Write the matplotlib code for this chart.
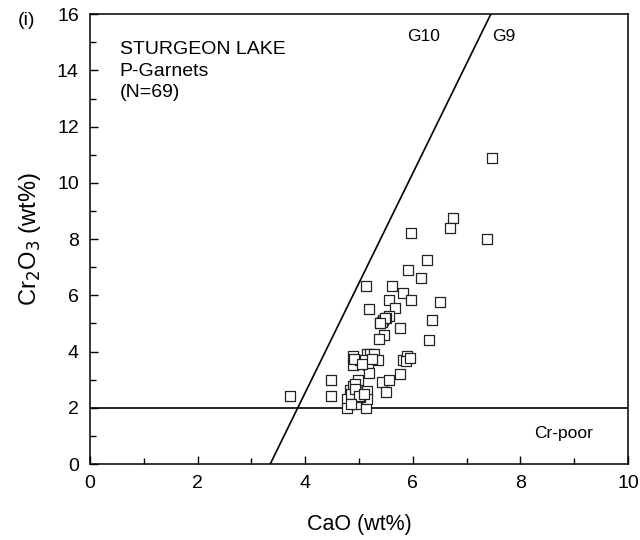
import numpy as np
import matplotlib.pyplot as plt
from matplotlib.ticker import MultipleLocator

plt.rcParams['font.family'] = ['Liberation Sans', 'DejaVu Sans']

# garnet analyses
cao = [7.48, 6.74, 6.69, 5.97, 7.38, 6.26, 5.92,
       6.16, 5.13, 5.62, 5.81, 5.96, 5.56, 6.51, 5.67, 5.18, 5.56, 5.50,
       5.45, 5.39, 6.36, 5.76, 5.47, 5.38, 6.31,
       3.72, 4.48, 4.48, 4.88, 4.88, 5.01, 5.14, 5.20, 5.28, 5.11, 5.17,
       5.36, 5.19, 4.99, 5.42, 5.56, 5.76, 5.51, 5.82, 5.89, 5.87,
       4.83, 4.88, 4.93, 4.99, 5.14, 4.78, 4.78, 4.94, 5.13, 5.14, 5.02, 4.86,
       5.42, 5.48, 4.90, 5.05, 5.25, 4.92, 5.00, 4.85, 5.10, 5.95, 5.40]
cr2o3 = [10.9, 8.75, 8.4, 8.2, 8.0, 7.25, 6.9,
         6.6, 6.33, 6.33, 6.1, 5.85, 5.85, 5.75, 5.55, 5.5, 5.28, 5.18,
         5.12, 5.0, 5.12, 4.85, 4.58, 4.45, 4.4,
         2.42, 3.0, 2.42, 3.85, 3.52, 3.7, 3.92, 3.92, 3.92, 3.7, 3.52,
         3.7, 3.22, 3.0, 2.9, 3.0, 3.2, 2.55, 3.7, 3.85, 3.65,
         2.65, 2.78, 2.85, 2.55, 2.6, 2.3, 1.98, 2.12, 1.98, 2.3, 2.4, 2.48,
         5.05, 5.2, 3.75, 3.55, 3.75, 2.68, 2.42, 2.15, 2.5, 3.78, 5.02]

# G9/G10 divider and Cr-poor limit
g10_cao = [3.35, 7.45]
g10_cr = [0, 16]
crpoor = 2

fig = plt.figure(figsize=(6.4, 5.4), dpi=100)
ax = fig.add_axes([0.1406, 0.1407, 0.8406, 0.833])

ax.plot(g10_cao, g10_cr, color='black', lw=1.2)
ax.axhline(crpoor, color='black', lw=1.2)
ax.scatter(cao, cr2o3, marker='s', s=62, facecolors='white',
           edgecolors='#222222', linewidths=0.9, zorder=3)

ax.set_xlim(0, 10)
ax.set_ylim(0, 16)
ax.xaxis.set_major_locator(MultipleLocator(2))
ax.xaxis.set_minor_locator(MultipleLocator(1))
ax.yaxis.set_major_locator(MultipleLocator(2))
ax.yaxis.set_minor_locator(MultipleLocator(1))
ax.tick_params(which='both', direction='in', labelsize=14, width=1)
ax.tick_params(which='major', length=6, pad=8)
ax.tick_params(which='minor', length=4)
for sp in ax.spines.values():
    sp.set_linewidth(1.1)

ax.set_xlabel('CaO (wt%)', fontsize=15.5, labelpad=16)
ax.set_ylabel(r'Cr$_2$O$_3$ (wt%)', fontsize=17, labelpad=10)

ax.text(0.055, 0.94, 'STURGEON LAKE\nP-Garnets\n(N=69)', transform=ax.transAxes,
        fontsize=14, va='top', ha='left', linespacing=1.35)
fig.text(0.028, 0.962, '(i)', fontsize=14, va='center')
ax.text(6.2, 15.2, 'G10', fontsize=12.5, ha='center', va='center')
ax.text(7.7, 15.2, 'G9', fontsize=12.5, ha='center', va='center')
ax.text(8.8, 1.1, 'Cr-poor', fontsize=12.5, ha='center', va='center')

fig.savefig('out.png', dpi=100)
